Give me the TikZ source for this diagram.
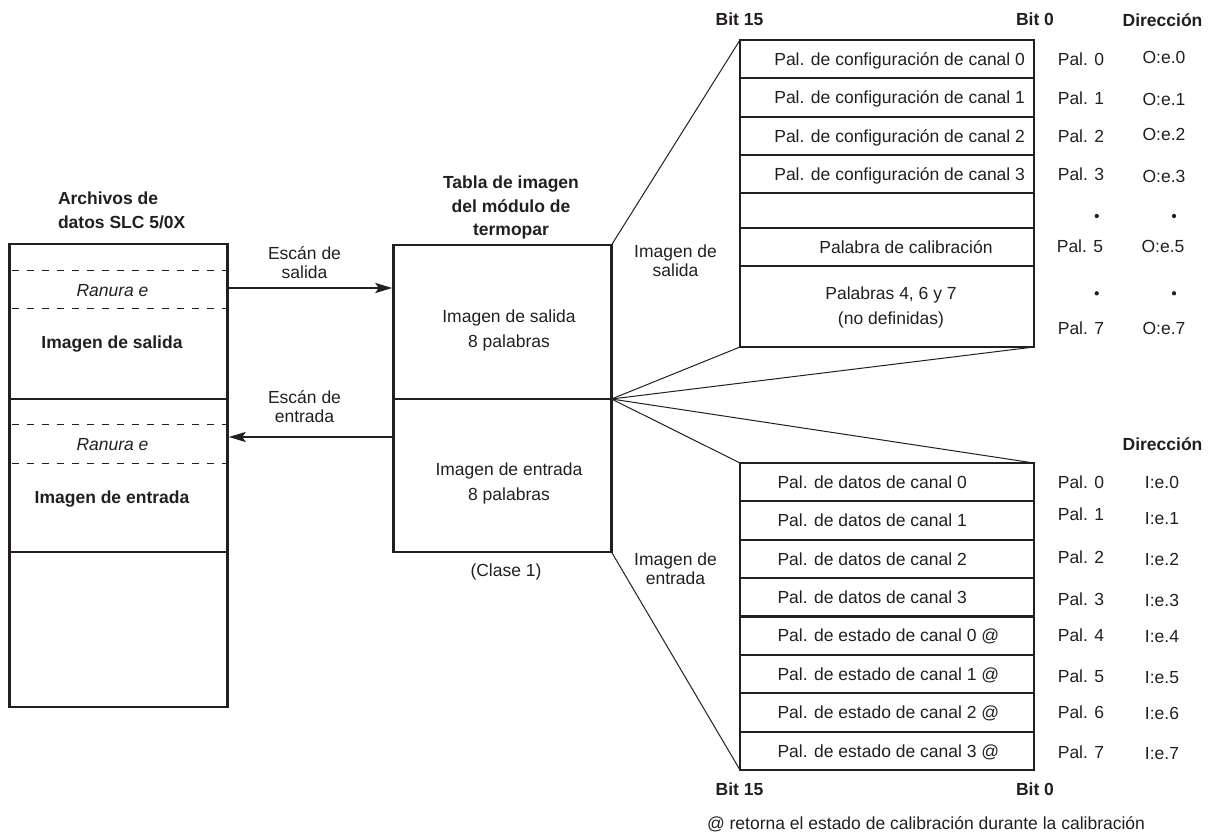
\documentclass[tikz,border=0pt]{standalone}
\usepackage{fontspec}
\setmainfont{Liberation Sans}
\usetikzlibrary{arrows.meta}
\definecolor{ink}{HTML}{231F20}
\newcommand\myfs{\fontsize{17.5}{21}\selectfont}
\begin{document}
\begin{tikzpicture}[x=1pt,y=-1pt,
  every node/.style={text=ink, inner sep=0pt, outer sep=0pt, font=\myfs},
  capline/.style={text height=12.6pt, text depth=0pt},
  bld/.style={font=\myfs\bfseries},
  itl/.style={font=\myfs\itshape},
  two/.style={align=center, font=\fontsize{17.5}{19}\selectfont},
  blk/.style={draw=ink, line width=2.4pt, anchor=north west, minimum width=218pt},
  row/.style={draw=ink, line width=2.2pt, minimum width=294pt, anchor=north west},
  fan/.style={draw=ink, line width=1pt},
  arr/.style={draw=ink, line width=2.3pt, shorten >=1.2pt, -{Stealth[length=17pt,width=10pt,inset=3.5pt]}},
  dsh/.style={draw=ink, line width=1pt, dash pattern=on 7pt off 8pt, dash phase=13pt},
  dotn/.style={circle, fill=ink, minimum size=4.3pt},
]
\useasboundingbox (0,0) rectangle (1214,837);

% ---------- left block: SLC data files ----------
\node[bld, align=left, font=\fontsize{17.5}{24}\selectfont\bfseries, anchor=west] (slctitle) at (58,210.7) {Archivos de\\datos SLC 5/0X};
\node[blk, minimum height=155pt] (slcout) at (9.5,244) {};
\node[blk, minimum height=153pt] (slcin) at (9.5,399) {};
\node[blk, minimum height=155pt] (slcrest) at (9.5,552) {};
\draw[dsh] ([yshift=-26pt]slcout.north west) -- ([yshift=-26pt]slcout.north east);
\draw[dsh] ([yshift=-64pt]slcout.north west) -- ([yshift=-64pt]slcout.north east);
\draw[dsh] ([yshift=-25pt]slcin.north west) -- ([yshift=-25pt]slcin.north east);
\draw[dsh] ([yshift=-64pt]slcin.north west) -- ([yshift=-64pt]slcin.north east);
\node[itl, capline] (ran1) at (112.5,290) {Ranura e};
\node[bld, capline] (slcouttxt) at (112,341.7) {Imagen de salida};
\node[itl, capline] (ran2) at (112.5,443.7) {Ranura e};
\node[bld, capline] (slcintxt) at (112,497) {Imagen de entrada};

% ---------- middle block: module image table ----------
\node[align=center, font=\fontsize{17.5}{23.5}\selectfont\bfseries] (modtitle) at (511,207.5) {Tabla de imagen\\del módulo de\\termopar};
\node[blk, minimum height=154pt] (outimg) at (393.5,245) {};
\node[blk, minimum height=153pt] (inimg) at (393.5,399) {};
\node[align=center, font=\fontsize{17.5}{25.5}\selectfont] (outimgtxt) at (509,330.5) {Imagen de salida\\8 palabras};
\node[align=center, font=\fontsize{17.5}{25}\selectfont] (inimgtxt) at (509,483.5) {Imagen de entrada\\8 palabras};
\node (clase) at (506,572) {(Clase 1)};

% ---------- scan arrows ----------
\draw[arr] ([yshift=-44pt]slcout.north east) -- ([yshift=-43pt]outimg.north west);
\draw[arr] ([yshift=-38pt]inimg.north west) -- ([yshift=-38pt]slcin.north east);
\node[two] (scanout) at (304.5,263) {Escán de\\salida};
\node[two] (scanin) at (304.5,407) {Escán de\\entrada};

% ---------- output image table ----------
\node[bld, capline] (b15a) at (739.5,19.7) {Bit 15};
\node[bld, capline] (b0a) at (1035,19.7) {Bit 0};
\node[bld, capline] (dira) at (1162.5,20) {Dirección};
\node[row, minimum height=38pt] (c0) at (740,40) {};
\node[row, minimum height=39pt] (c1) at (740,78) {};
\node[row, minimum height=38pt] (c2) at (740,117) {};
\node[row, minimum height=38pt] (c3) at (740,155) {};
\node[row, minimum height=35pt] (c4) at (740,193) {};
\node[row, minimum height=38pt] (c5) at (740,228) {};
\node[row, minimum height=81pt] (c6) at (740,266) {};
\node[capline, anchor=east] (c0t) at ([xshift=-9pt]c0.east) {Pal. de configuración de canal 0};
\node[capline, anchor=east] (c1t) at ([xshift=-9pt]c1.east) {Pal. de configuración de canal 1};
\node[capline, anchor=east] (c2t) at ([xshift=-9pt]c2.east) {Pal. de configuración de canal 2};
\node[capline, anchor=east] (c3t) at ([xshift=-9pt]c3.east) {Pal. de configuración de canal 3};
\node[capline] (c5t) at ([xshift=19pt]c5.center) {Palabra de calibración};
\node[align=center, font=\fontsize{17.5}{25.5}\selectfont] (c6t) at ([xshift=4pt,yshift=-1pt]c6.center) {Palabras 4, 6 y 7\\(no definidas)};

\node[capline] (po0) at (1081,59) {Pal. 0};
\node[capline] (po1) at (1081,98) {Pal. 1};
\node[capline] (po2) at (1081,136) {Pal. 2};
\node[capline] (po3) at (1081,174) {Pal. 3};
\node[capline] (po5) at (1080,246) {Pal. 5};
\node[capline] (po7) at (1081,328) {Pal. 7};
\node[capline] (ao0) at (1164,57) {O:e.0};
\node[capline] (ao1) at (1164,99) {O:e.1};
\node[capline] (ao2) at (1164,134) {O:e.2};
\node[capline] (ao3) at (1164,176) {O:e.3};
\node[capline] (ao5) at (1163,246) {O:e.5};
\node[capline] (ao7) at (1164,328) {O:e.7};
\node[dotn] (dt1) at (1096.7,216) {};
\node[dotn] (dt2) at (1174,216) {};
\node[dotn] (dt3) at (1096.7,293.3) {};
\node[dotn] (dt4) at (1174,293.3) {};
\node[two] (lblout) at (675.5,261) {Imagen de\\salida};

% ---------- input image table ----------
\node[bld, capline] (dirb) at (1162.5,443.7) {Dirección};
\node[row, minimum height=38.375pt] (d0) at (740,463) {};
\node[row, minimum height=38.375pt] (d1) at (740,501.375) {};
\node[row, minimum height=38.375pt] (d2) at (740,539.75) {};
\node[row, minimum height=38.375pt] (d3) at (740,578.125) {};
\node[row, minimum height=38.375pt] (d4) at (740,616.5) {};
\node[row, minimum height=38.375pt] (d5) at (740,654.875) {};
\node[row, minimum height=38.375pt] (d6) at (740,693.25) {};
\node[row, minimum height=38.375pt] (d7) at (740,731.625) {};
\node[capline, anchor=west] (d0t) at ([xshift=37.5pt]d0.west) {Pal. de datos de canal 0};
\node[capline, anchor=west] (d1t) at ([xshift=37.5pt]d1.west) {Pal. de datos de canal 1};
\node[capline, anchor=west] (d2t) at ([xshift=37.5pt]d2.west) {Pal. de datos de canal 2};
\node[capline, anchor=west] (d3t) at ([xshift=37.5pt]d3.west) {Pal. de datos de canal 3};
\node[capline, anchor=west] (d4t) at ([xshift=37.5pt]d4.west) {Pal. de estado de canal 0 @};
\node[capline, anchor=west] (d5t) at ([xshift=37.5pt]d5.west) {Pal. de estado de canal 1 @};
\node[capline, anchor=west] (d6t) at ([xshift=37.5pt]d6.west) {Pal. de estado de canal 2 @};
\node[capline, anchor=west] (d7t) at ([xshift=37.5pt]d7.west) {Pal. de estado de canal 3 @};

\node[capline] (pi0) at (1081,482) {Pal. 0};
\node[capline] (pi1) at (1081,514) {Pal. 1};
\node[capline] (pi2) at (1081,557) {Pal. 2};
\node[capline] (pi3) at (1081,599) {Pal. 3};
\node[capline] (pi4) at (1081,635) {Pal. 4};
\node[capline] (pi5) at (1081,676) {Pal. 5};
\node[capline] (pi6) at (1081,712) {Pal. 6};
\node[capline] (pi7) at (1081,752) {Pal. 7};
\node[capline] (ai0) at (1162,482) {I:e.0};
\node[capline] (ai1) at (1162,518) {I:e.1};
\node[capline] (ai2) at (1162,559) {I:e.2};
\node[capline] (ai3) at (1162,600) {I:e.3};
\node[capline] (ai4) at (1162,636) {I:e.4};
\node[capline] (ai5) at (1162,677) {I:e.5};
\node[capline] (ai6) at (1162,713) {I:e.6};
\node[capline] (ai7) at (1162,753) {I:e.7};
\node[bld, capline] (b15b) at (739.5,789.3) {Bit 15};
\node[bld, capline] (b0b) at (1035,789.3) {Bit 0};
\node[two] (lblin) at (675.5,569) {Imagen de\\entrada};
\node[capline, anchor=west] (foot) at (707,823.5) {@ retorna el estado de calibración durante la calibración};

% ---------- fan lines ----------
\draw[fan] (outimg.north east) -- (c0.north west);
\draw[fan] (outimg.south east) -- (c6.south west);
\draw[fan] (outimg.south east) -- (c6.south east);
\draw[fan] (outimg.south east) -- (d0.north west);
\draw[fan] (outimg.south east) -- (d0.north east);
\draw[fan] (inimg.south east) -- (d7.south west);
\end{tikzpicture}
\end{document}
